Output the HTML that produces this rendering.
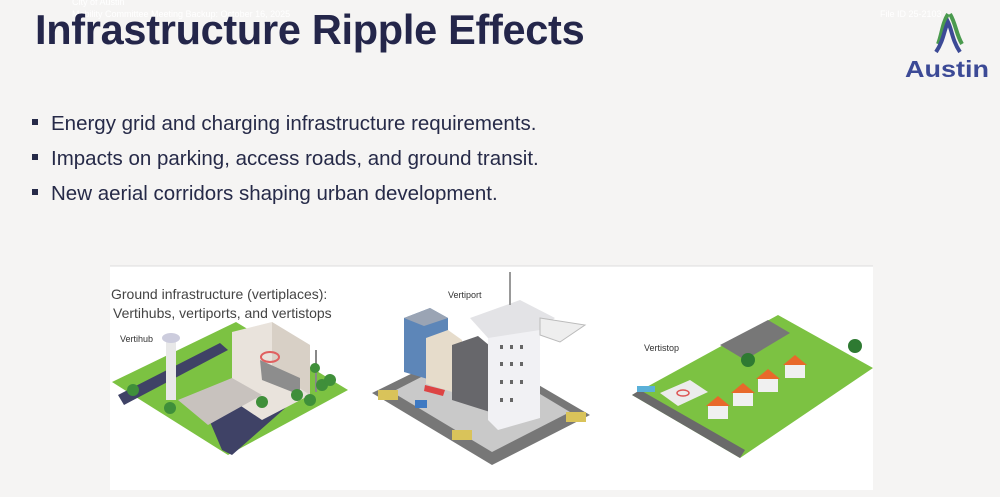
<!DOCTYPE html>
<html><head><meta charset="utf-8"><style>
body{margin:0;width:1000px;height:497px;background:#f5f4f3;overflow:hidden;position:relative;font-family:"Liberation Sans",sans-serif}
.t{position:absolute;left:35px;top:6px;font-size:41.5px;font-weight:bold;color:#24264a;letter-spacing:-0.3px}
.b{position:absolute;left:32px;font-size:20.5px;color:#262a48}
.b span{display:inline-block;width:6px;height:6px;background:#262a48;margin-right:13px;vertical-align:middle;position:relative;top:-3px}
.sm{position:absolute;color:#fff;font-size:9px}
</style></head><body>
<div class="sm" style="left:72px;top:-3px">City of Austin</div>
<div class="sm" style="left:72px;top:9px">Mobility Committee Meeting Backup: October 16, 2025</div>
<div class="sm" style="left:880px;top:9px">File ID 25-2103</div>
<div class="t">Infrastructure Ripple Effects</div>
<div class="b" style="top:112px"><span></span>Energy grid and charging infrastructure requirements.</div>
<div class="b" style="top:147px"><span></span>Impacts on parking, access roads, and ground transit.</div>
<div class="b" style="top:182px"><span></span>New aerial corridors shaping urban development.</div>
<svg style="position:absolute;left:900px;top:8px" width="95" height="72" viewBox="0 0 95 72">
<path d="M38 36 C42 26 42 16 48 6" stroke="#4a9a4e" stroke-width="4" fill="none"/>
<path d="M50 6 C56 16 56 26 62 36" stroke="#4a9a4e" stroke-width="4" fill="none"/>
<path d="M36 44 C44 32 44 22 48 14 C52 22 52 32 60 44" stroke="#3c4a96" stroke-width="4" fill="none"/>
<text x="47" y="69" text-anchor="middle" font-size="23" font-weight="bold" fill="#3c4a96" font-family="Liberation Sans" textLength="84" lengthAdjust="spacingAndGlyphs">Austin</text>
</svg>
<svg style="position:absolute;left:0;top:0" width="1000" height="497">
<rect x="110" y="266" width="763" height="224" fill="#fff"/>
<line x1="110" y1="266" x2="873" y2="266" stroke="#ddd"/>
<text x="111" y="299" font-size="14" fill="#444">Ground infrastructure (vertiplaces):</text>
<text x="113" y="318" font-size="14" fill="#444">Vertihubs, vertiports, and vertistops</text>
<!-- vertihub -->
<polygon points="112,382 236,322 348,390 228,455" fill="#7cc242"/>
<polygon points="118,395 220,343 228,350 124,405" fill="#3f4266"/>
<polygon points="205,410 270,378 300,395 232,455 222,450" fill="#3f4266"/>
<rect x="166" y="338" width="10" height="62" fill="#e8e8e8"/>
<ellipse cx="171" cy="338" rx="9" ry="5" fill="#ccd"/>
<polygon points="232,332 272,322 310,345 310,395 262,420 232,400" fill="#e9e3dc"/>
<polygon points="272,322 310,345 310,395 272,370" fill="#d8d0c6"/>
<polygon points="178,400 232,378 262,395 208,425" fill="#c8c2be"/>
<polygon points="260,360 300,378 300,395 262,380" fill="#8d8d8d"/>
<ellipse cx="270" cy="357" rx="9" ry="5" fill="none" stroke="#e06060" stroke-width="2"/>
<line x1="316" y1="350" x2="316" y2="392" stroke="#888" stroke-width="2"/>
<g fill="#3f8f3a"><circle cx="133" cy="390" r="6"/><circle cx="170" cy="408" r="6"/><circle cx="262" cy="402" r="6"/><circle cx="297" cy="395" r="6"/><circle cx="310" cy="400" r="6"/><circle cx="322" cy="385" r="6"/><circle cx="330" cy="380" r="6"/><circle cx="315" cy="368" r="5"/></g>
<text x="120" y="342" font-size="9" fill="#333">Vertihub</text>
<!-- vertiport -->
<polygon points="372,393 470,345 590,415 492,465" fill="#777"/>
<polygon points="392,392 470,352 570,412 492,452" fill="#c9c9c9"/>
<polygon points="404,318 430,308 448,318 448,385 404,372" fill="#5d86b8"/>
<polygon points="404,318 430,308 448,318 424,326" fill="#9aa4b4"/>
<polygon points="426,338 448,330 462,340 462,395 426,384" fill="#e6dccb"/>
<polygon points="452,345 478,336 490,346 490,412 452,400" fill="#67676b"/>
<polygon points="488,330 540,322 540,418 498,430 488,420" fill="#f1f1f4"/>
<polygon points="470,318 520,300 555,318 540,330 488,338" fill="#e3e3e6"/>
<polygon points="540,318 585,325 560,342 540,335" fill="#eee" stroke="#bbb"/>
<line x1="510" y1="272" x2="510" y2="305" stroke="#999" stroke-width="2"/>
<g fill="#666"><rect x="500" y="345" width="3" height="4"/><rect x="510" y="345" width="3" height="4"/><rect x="520" y="345" width="3" height="4"/><rect x="500" y="362" width="3" height="4"/><rect x="510" y="362" width="3" height="4"/><rect x="520" y="362" width="3" height="4"/><rect x="500" y="380" width="3" height="4"/><rect x="510" y="380" width="3" height="4"/><rect x="520" y="380" width="3" height="4"/><rect x="500" y="398" width="3" height="4"/><rect x="510" y="398" width="3" height="4"/></g>
<polygon points="425,385 445,390 443,396 424,391" fill="#d44"/>
<rect x="378" y="390" width="20" height="10" fill="#d9c35a"/>
<rect x="452" y="430" width="20" height="10" fill="#d9c35a"/>
<rect x="566" y="412" width="20" height="10" fill="#d9c35a"/>
<rect x="415" y="400" width="12" height="8" fill="#3e79c2"/>
<text x="448" y="298" font-size="9" fill="#333">Vertiport</text>
<!-- vertistop -->
<polygon points="632,395 778,315 873,368 740,458" fill="#7cc242"/>
<polygon points="632,395 640,390 745,450 740,458" fill="#6a6a6a"/>
<polygon points="720,345 768,320 790,333 745,360" fill="#777"/>
<polygon points="660,393 690,380 708,392 678,406" fill="#ececec"/>
<ellipse cx="683" cy="393" rx="6" ry="3" fill="none" stroke="#d55" stroke-width="1.5"/>
<g fill="#f0f0f0"><rect x="708" y="405" width="20" height="14"/><rect x="733" y="392" width="20" height="14"/><rect x="758" y="378" width="20" height="14"/><rect x="785" y="364" width="20" height="14"/></g>
<g fill="#e8692b"><polygon points="706,406 718,396 730,406"/><polygon points="731,393 743,383 755,393"/><polygon points="756,379 768,369 780,379"/><polygon points="783,365 795,355 807,365"/></g>
<g fill="#2e7a32"><circle cx="748" cy="360" r="7"/><circle cx="855" cy="346" r="7"/></g>
<rect x="637" y="386" width="18" height="6" fill="#5ab0d8"/>
<text x="644" y="351" font-size="9" fill="#333">Vertistop</text>
</svg>
</body></html>
